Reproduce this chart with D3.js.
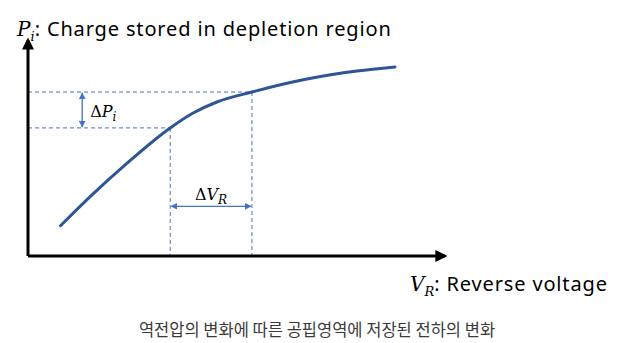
<!DOCTYPE html>
<html>
<head>
<meta charset="utf-8">
<script src="https://cdn.jsdelivr.net/npm/d3@7"></script>
<style>
  body { margin: 0; background: #fff; }
  svg { display: block; }
  .lbl { font-family: "Noto Sans", "Open Sans", sans-serif; letter-spacing: 0.85px; }
  .math { font-family: "DejaVu Serif", "Liberation Serif", serif; font-style: italic; }
</style>
</head>
<body>
<div id="chart"></div>
<script>
// curve: reverse voltage vs stored charge (arbitrary units, 0..10)
const vr = [0.78, 1.49, 2.37, 3.41, 3.96, 4.53, 5.37, 6.69, 7.89, 8.80];
const pi = [1.40, 2.75, 4.29, 5.93, 6.62, 7.13, 7.59, 8.19, 8.56, 8.75];
// the two marked operating points
const markV = [3.41, 5.37];
const markP = [5.93, 7.59];
const caption = "역전압의 변화에 따른 공핍영역에 저장된 전하의 변화";

const W = 617, H = 343;
const blue = "#4472c4", curveCol = "#2f5597";

const svg = d3.select("#chart").append("svg")
  .attr("width", W).attr("height", H);

const x = d3.scaleLinear().domain([0, 10]).range([28, 445]);
const y = d3.scaleLinear().domain([0, 10]).range([256, 40]);

const defs = svg.append("defs");
defs.append("marker")
  .attr("id", "axArrow").attr("viewBox", "0 0 10 10")
  .attr("refX", 8).attr("refY", 5)
  .attr("markerWidth", 4).attr("markerHeight", 4)
  .attr("orient", "auto")
  .append("path").attr("d", "M0,0 L10,5 L0,10 Z").attr("fill", "#000");
defs.append("marker")
  .attr("id", "bArrow").attr("viewBox", "0 0 10 10")
  .attr("refX", 9).attr("refY", 5)
  .attr("markerWidth", 7).attr("markerHeight", 7)
  .attr("markerUnits", "userSpaceOnUse")
  .attr("orient", "auto-start-reverse")
  .append("path").attr("d", "M0,0 L10,5 L0,10 Z").attr("fill", blue);

// dashed guides
const g = svg.append("g");
markP.forEach((p, i) => {
  g.append("line")
    .attr("x1", x(0)).attr("x2", x(markV[i]))
    .attr("y1", y(p)).attr("y2", y(p))
    .attr("stroke", blue).attr("stroke-width", 1)
    .attr("stroke-dasharray", "4,3");
  g.append("line")
    .attr("x1", x(markV[i])).attr("x2", x(markV[i]))
    .attr("y1", y(p)).attr("y2", y(0))
    .attr("stroke", blue).attr("stroke-width", 1)
    .attr("stroke-dasharray", "4,3");
});

// delta arrows
const dpX = 1.3, dvY = 2.3;
g.append("line")
  .attr("x1", x(dpX)).attr("x2", x(dpX))
  .attr("y1", y(markP[1]) + 1).attr("y2", y(markP[0]) - 1)
  .attr("stroke", blue).attr("stroke-width", 1.3)
  .attr("marker-start", "url(#bArrow)").attr("marker-end", "url(#bArrow)");
g.append("line")
  .attr("x1", x(markV[0]) + 1).attr("x2", x(markV[1]) - 1)
  .attr("y1", y(dvY)).attr("y2", y(dvY))
  .attr("stroke", blue).attr("stroke-width", 1.3)
  .attr("marker-start", "url(#bArrow)").attr("marker-end", "url(#bArrow)");

const dp = svg.append("text").attr("class", "math")
  .attr("x", x(dpX) + 8).attr("y", y((markP[0] + markP[1]) / 2) + 7)
  .attr("font-size", 16).attr("fill", "#000");
dp.append("tspan").attr("font-style", "normal").text("Δ");
dp.append("tspan").text("P");
dp.append("tspan").attr("font-size", 12).attr("dy", 4).text("i");

const dv = svg.append("text").attr("class", "math")
  .attr("x", (x(markV[0]) + x(markV[1])) / 2).attr("y", y(dvY) - 6)
  .attr("text-anchor", "middle")
  .attr("font-size", 16).attr("fill", "#000");
dv.append("tspan").attr("font-style", "normal").text("Δ");
dv.append("tspan").text("V");
dv.append("tspan").attr("font-size", 12).attr("dy", 4).text("R");

// curve
const line = d3.line()
  .x(d => x(d[0])).y(d => y(d[1]))
  .curve(d3.curveMonotoneX);
svg.append("path")
  .datum(d3.zip(vr, pi))
  .attr("d", line)
  .attr("fill", "none")
  .attr("stroke", curveCol)
  .attr("stroke-width", 3)
  .attr("stroke-linecap", "round");

// axes with arrows
svg.append("path")
  .attr("d", `M${x(0)},${y(0)} L${x(0)},${y(10)}`)
  .attr("stroke", "#000").attr("stroke-width", 3).attr("fill", "none")
  .attr("marker-end", "url(#axArrow)");
svg.append("path")
  .attr("d", `M${x(0)},${y(0)} L${x(10)},${y(0)}`)
  .attr("stroke", "#000").attr("stroke-width", 3).attr("fill", "none")
  .attr("marker-end", "url(#axArrow)");

// axis titles
const yt = svg.append("text").attr("x", 17).attr("y", 36)
  .attr("font-size", 20).attr("fill", "#000");
yt.append("tspan").attr("class", "math").text("P");
yt.append("tspan").attr("class", "math").attr("font-size", 13).attr("dy", 5).text("i");
yt.append("tspan").attr("class", "lbl").attr("dy", -5).text(": Charge stored in depletion region");

const xt = svg.append("text").attr("x", 410).attr("y", 291)
  .attr("font-size", 20).attr("fill", "#000");
xt.append("tspan").attr("class", "math").text("V");
xt.append("tspan").attr("class", "math").attr("font-size", 13).attr("dy", 5).text("R");
xt.append("tspan").attr("class", "lbl").attr("dy", -5).text(": Reverse voltage");

svg.append("text")
  .attr("x", 317).attr("y", 336)
  .attr("text-anchor", "middle")
  .attr("font-family", "'Noto Sans CJK KR', sans-serif")
  .attr("font-size", 16.5).attr("fill", "#3a3a3a")
  .text(caption);
</script>
</body>
</html>
